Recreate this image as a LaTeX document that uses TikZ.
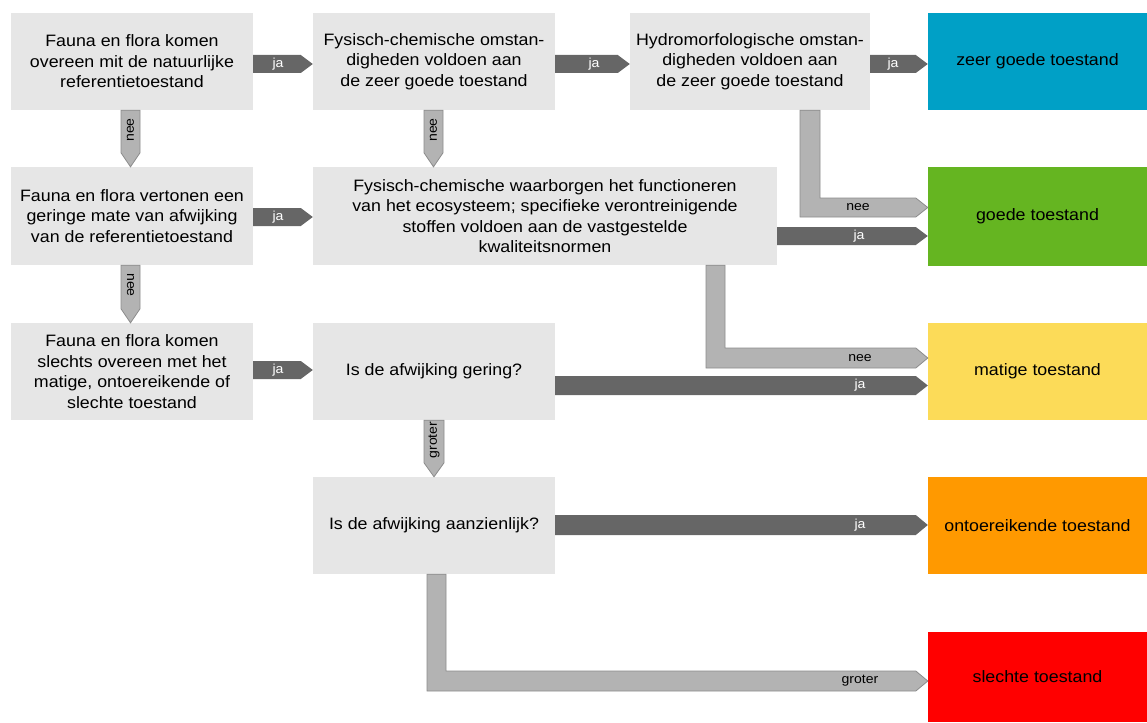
\documentclass[tikz,border=0pt]{standalone}
\usepackage{fontspec}
\setmainfont{Liberation Sans}[FakeStretch=1.08]
\usetikzlibrary{calc}
\definecolor{boxgray}{HTML}{E6E6E6}
\definecolor{darkarr}{HTML}{666666}
\definecolor{lightarr}{HTML}{B3B3B3}
\definecolor{lightedge}{HTML}{8C8C8C}
\definecolor{zgblue}{HTML}{00A0C6}
\definecolor{ggreen}{HTML}{65B521}
\definecolor{myellow}{HTML}{FCDB58}
\definecolor{oorange}{HTML}{FF9900}
\definecolor{sred}{HTML}{FF0000}
\tikzset{
  cbox/.style={rectangle, fill=boxgray, inner sep=0pt, align=center, font=\fontsize{16.5}{20.5}\selectfont},
  rbox/.style={rectangle, inner sep=0pt, minimum width=219pt, align=center, font=\fontsize{16.5}{20.5}\selectfont},
  darrow/.style={fill=darkarr},
  larrow/.style={fill=lightarr, draw=lightedge, line width=0.8pt},
  dlab/.style={text=white, font=\fontsize{13}{15}\selectfont, inner sep=0pt},
  llab/.style={text=black, font=\fontsize{13}{15}\selectfont, inner sep=0pt},
}
% horizontal arrow: style, source, target, top, mid, bottom
\newcommand\harrow[6]{\path[#1] (#2.east |- 0,#4) -- ($(#3.west |- 0,#4)+(-12,0)$) -- (#3.west |- 0,#5) -- ($(#3.west |- 0,#6)+(-12,0)$) -- (#2.east |- 0,#6) -- cycle;}
% vertical arrow: style, source, target, left, mid, right
\newcommand\varrow[6]{\path[#1] (#4,0 |- #2.south) -- ($(#4,0 |- #3.north)+(0,-14)$) -- (#5,0 |- #3.north) -- ($(#6,0 |- #3.north)+(0,-14)$) -- (#6,0 |- #2.south) -- cycle;}
% L arrow: style, source, target, left, right, top, mid, bottom
\newcommand\Larr[8]{\path[#1] (#4,0 |- #2.south) -- (#4,#8) -- ($(#3.west |- 0,#8)+(-12,0)$) -- (#3.west |- 0,#7) -- ($(#3.west |- 0,#6)+(-12,0)$) -- (#5,#6) -- (#5,0 |- #2.south) -- cycle;}
\begin{document}
\begin{tikzpicture}[x=1pt,y=-1pt]
\path[use as bounding box] (0,0) rectangle (1147,722);
% boxes
\node[cbox, minimum width=242pt, minimum height=97pt] (A1) at (132,61.5) {Fauna en flora komen\\overeen mit de natuurlijke\\referentietoestand};
\node[cbox, minimum width=242pt, minimum height=97pt] (A2) at (434,61.5) {Fysisch-chemische omstan-\\digheden voldoen aan\\de zeer goede toestand};
\node[cbox, minimum width=240pt, minimum height=97pt] (A3) at (750,61.5) {Hydromorfologische omstan-\\digheden voldoen aan\\de zeer goede toestand};
\node[rbox, fill=zgblue, minimum height=97pt] (R1) at (1037.5,61.5) {zeer goede toestand};
\node[cbox, minimum width=242pt, minimum height=98pt] (B1) at (132,216) {Fauna en flora vertonen een\\geringe mate van afwijking\\van de referentietoestand};
\node[cbox, minimum width=464pt, minimum height=98pt] (B2) at (545,216) {Fysisch-chemische waarborgen het functioneren\\van het ecosysteem; specifieke verontreinigende\\stoffen voldoen aan de vastgestelde\\kwaliteitsnormen};
\node[rbox, fill=ggreen, minimum height=99pt] (R2) at (1037.5,216.5) {goede toestand};
\node[cbox, minimum width=242pt, minimum height=97pt] (C1) at (132,371.5) {Fauna en flora komen\\slechts overeen met het\\matige, ontoereikende of\\slechte toestand};
\node[cbox, minimum width=242pt, minimum height=97pt] (C2) at (434,371.5) {Is de afwijking gering?};
\node[rbox, fill=myellow, minimum height=97pt] (R3) at (1037.5,371.5) {matige toestand};
\node[cbox, minimum width=242pt, minimum height=97pt] (D2) at (434,525.5) {Is de afwijking aanzienlijk?};
\node[rbox, fill=oorange, minimum height=97pt] (R4) at (1037.5,525.5) {ontoereikende toestand};
\node[rbox, fill=sred, minimum height=90pt] (R5) at (1037.5,677) {slechte toestand};
% dark "ja" arrows
\harrow{darrow}{A1}{A2}{55}{64}{73}
\harrow{darrow}{A2}{A3}{55}{64}{73}
\harrow{darrow}{A3}{R1}{55}{64}{73}
\harrow{darrow}{B1}{B2}{208}{217}{226}
\harrow{darrow}{B2}{R2}{227}{236}{245}
\harrow{darrow}{C1}{C2}{361}{370}{379}
\harrow{darrow}{C2}{R3}{376}{385.5}{395}
\harrow{darrow}{D2}{R4}{515}{525}{535}
% light vertical arrows
\varrow{larrow}{A1}{B1}{121}{130.5}{140}
\varrow{larrow}{A2}{B2}{424}{433.5}{443}
\varrow{larrow}{B1}{C1}{121}{130.5}{140}
\varrow{larrow}{C2}{D2}{424}{434}{444}
% light L arrows
\Larr{larrow}{A3}{R2}{800}{820}{198}{207.5}{217}
\Larr{larrow}{B2}{R3}{706}{725}{348}{358}{368}
\Larr{larrow}{D2}{R5}{427}{446}{671}{681}{691}
% labels
\node[dlab] (l1) at (278,64) {ja};
\node[dlab] (l2) at (594,64) {ja};
\node[dlab] (l3) at (893,64) {ja};
\node[dlab] (l4) at (278,217) {ja};
\node[dlab] (l5) at (859,236) {ja};
\node[dlab] (l6) at (278,370) {ja};
\node[dlab] (l7) at (860,385.5) {ja};
\node[dlab] (l8) at (860,525) {ja};
\node[llab] (l9) at (858,207.5) {nee};
\node[llab] (l10) at (860,358) {nee};
\node[llab] (l11) at (860,681) {groter};
\node[llab, rotate=90] (l12) at (130.5,130) {nee};
\node[llab, rotate=90] (l13) at (433.5,130) {nee};
\node[llab, rotate=-90] (l14) at (130.5,285) {nee};
\node[llab, rotate=90] (l15) at (434,440) {groter};
\end{tikzpicture}
\end{document}
